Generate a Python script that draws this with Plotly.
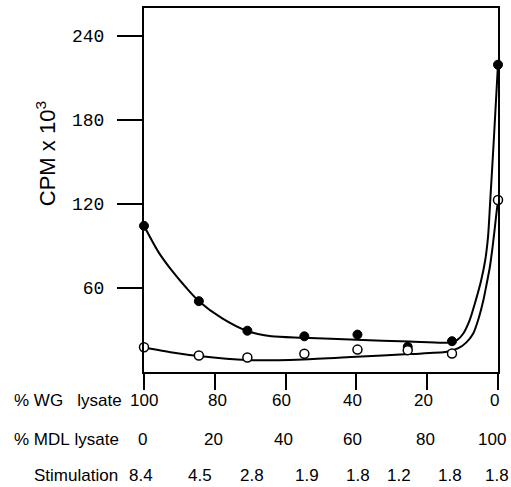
import plotly.graph_objects as go

# Data
wg_pct = [100, 84.5, 70.8, 54.7, 39.7, 25.5, 13, 0]
solid_cpm = [104.4, 50.6, 29.5, 25.5, 26.7, 18, 22, 219.5]
open_cpm = [17.7, 11.8, 10.4, 13, 16, 15.6, 13.2, 122.8]

# fitted curves (control points)
solid_fit_x = [100, 96, 92, 88, 84.5, 78, 71, 64, 55, 40, 25, 14, 11.5, 9.8, 8, 6.3, 4.8, 3.6, 2.8, 2.2, 1.2, 0]
solid_fit_y = [104.4, 86, 72, 60, 50.6, 38.5, 29.5, 25.5, 24.5, 23, 21.8, 21, 23, 27.5, 37, 51, 65, 80, 97, 122, 165, 220]
open_fit_x = [100, 92, 84.5, 71, 55, 40, 25, 14.5, 11.2, 9, 7, 5.5, 4.15, 3.2, 2.3, 1.6, 1.1, 0.5, 0]
open_fit_y = [17.6, 14, 11.4, 8.5, 9, 10.9, 12.8, 14.4, 17, 21, 27.5, 38, 51, 63, 75, 88, 98.5, 112, 122.6]

y_ticks = [60, 120, 180, 240]
x_ticks = [100, 80, 60, 40, 20, 0]

wg_labels = ["100", "80", "60", "40", "20", "0"]
mdl_labels = ["0", "20", "40", "60", "80", "100"]
stim_labels = ["8.4", "4.5", "2.8", "1.9", "1.8", "1.2", "1.8", "1.8"]

# label centre positions (pixels from left)
wg_label_px = [144, 217, 281, 352, 423, 494]
mdl_label_px = [142, 213, 283, 352, 425, 492]
stim_label_px = [141, 200, 252, 307, 358, 399, 450, 497]

SANS = "Liberation Sans, Arial, Helvetica, sans-serif"
MONO = "Liberation Mono, Courier New, monospace"

fig = go.Figure()
fig.add_trace(go.Scatter(x=solid_fit_x, y=solid_fit_y, mode="lines",
                         line=dict(color="black", width=2, shape="spline", smoothing=0.7),
                         hoverinfo="skip", showlegend=False))
fig.add_trace(go.Scatter(x=open_fit_x, y=open_fit_y, mode="lines",
                         line=dict(color="black", width=2, shape="spline", smoothing=0.7),
                         hoverinfo="skip", showlegend=False))
fig.add_trace(go.Scatter(x=wg_pct, y=solid_cpm, mode="markers",
                         marker=dict(color="black", size=9, line=dict(color="black", width=1)),
                         cliponaxis=False, showlegend=False))
fig.add_trace(go.Scatter(x=wg_pct, y=open_cpm, mode="markers",
                         marker=dict(color="white", size=9, line=dict(color="black", width=1.5)),
                         cliponaxis=False, showlegend=False))

ph = 366.0
def ypaper(py):
    return (372 - py) / ph

def xpaper(px):
    return (px - 144) / 354.0

def txt(text, px, py, anchor="center", size=17):
    return dict(text=text, x=xpaper(px), xref="paper", y=ypaper(py), yref="paper", showarrow=False,
                xanchor=anchor, yanchor="middle", font=dict(family=SANS, size=size, color="black"))

ann = []
for t, p in zip(wg_labels, wg_label_px):
    ann.append(txt(t, p, 401))
for t, p in zip(mdl_labels, mdl_label_px):
    ann.append(txt(t, p, 440))
for t, p in zip(stim_labels, stim_label_px):
    ann.append(txt(t, p, 476))
ann.append(txt("%\u00a0WG\u00a0\u00a0\u00a0lysate", 12, 401, "left"))
ann.append(txt("%\u00a0MDL\u00a0lysate", 12, 440, "left"))
ann.append(txt("Stimulation", 32, 476, "left"))
a = txt("CPM x 10<sup>3</sup>", 46, 153, "center", 22)
a["textangle"] = -90
ann.append(a)

fig.update_layout(
    width=511, height=487,
    margin=dict(l=144, r=13, t=6, b=115),
    paper_bgcolor="white", plot_bgcolor="white",
    showlegend=False,
    annotations=ann,
    xaxis=dict(range=[100, 0], tickvals=x_ticks, showticklabels=False, ticks="outside",
               ticklen=16, tickwidth=2, tickcolor="black", showline=True, linecolor="black",
               linewidth=2, mirror=True, showgrid=False, zeroline=False),
    yaxis=dict(range=[0, 260], tickvals=y_ticks, ticks="outside", ticklen=25, tickwidth=2,
               tickcolor="black", showline=True, linecolor="black", linewidth=2, mirror=True,
               showgrid=False, zeroline=False, ticklabelstandoff=9,
               tickfont=dict(family=MONO, size=18, color="black")),
)

fig.write_html("out.html", config={"displayModeBar": False},
               post_script="document.body.style.margin='0';document.body.style.overflow='hidden';")
